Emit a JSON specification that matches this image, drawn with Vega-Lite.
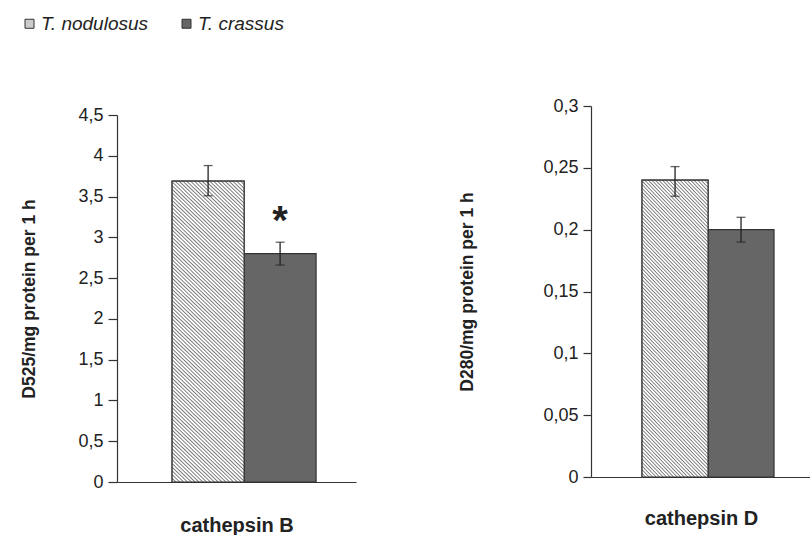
{
  "$schema": "https://vega.github.io/schema/vega-lite/v6.json",
  "padding": {"left": 20, "top": 14, "right": 0, "bottom": 0},
  "background": "white",
  "data": {"values": [
    {"enzyme": "cathepsin B", "species": "T. nodulosus", "mean": 3.69, "lo": 3.51, "hi": 3.88, "sig": ""},
    {"enzyme": "cathepsin B", "species": "T. crassus", "mean": 2.8, "lo": 2.66, "hi": 2.94, "sig": "*"},
    {"enzyme": "cathepsin D", "species": "T. nodulosus", "mean": 0.24, "lo": 0.227, "hi": 0.251, "sig": ""},
    {"enzyme": "cathepsin D", "species": "T. crassus", "mean": 0.2, "lo": 0.19, "hi": 0.21, "sig": ""}
  ]},
  "config": {
    "view": {"stroke": null},
    "font": "Liberation Sans",
    "axis": {"grid": false, "domainColor": "#333", "tickColor": "#333", "labelColor": "#222", "titleColor": "#222", "labelFont": "Liberation Sans", "titleFont": "Liberation Sans", "labelFontSize": 18, "titleFontWeight": "bold", "domainWidth": 1.2, "tickWidth": 1.2},
    "legend": {"symbolStrokeColor": "#333", "symbolStrokeWidth": 1}
  },
  "spacing": 102,
  "hconcat": [
    {
      "width": 239,
      "height": 376,
      "transform": [{"filter": "datum.enzyme === 'cathepsin B'"}],
      "encoding": {
        "x": {"field": "species", "type": "nominal",
          "scale": {"domain": ["T. nodulosus", "T. crassus"], "paddingInner": 0, "paddingOuter": 0.66, "align": 0.58},
          "axis": {"title": "cathepsin B", "labels": false, "ticks": false, "titleFontSize": 20, "titlePadding": 33}}
      },
      "layer": [
        {
          "mark": {"type": "bar", "stroke": "#333", "strokeWidth": 1.2},
          "encoding": {
            "y": {"field": "mean", "type": "quantitative", "title": "D525/mg protein per 1 h",
              "scale": {"domain": [0, 4.5], "range": [376, 9]},
              "axis": {"values": [0, 0.5, 1, 1.5, 2, 2.5, 3, 3.5, 4, 4.5], "labelExpr": "replace(toString(datum.value), '.', ',')", "tickSize": 9, "labelPadding": 5, "titleFontSize": 17.5, "titlePadding": 39}},
            "fill": {"field": "species", "type": "nominal",
              "scale": {"domain": ["T. nodulosus", "T. crassus"], "range": ["#cccccc", "#666666"]},
              "legend": {"title": null, "orient": "none", "legendX": -97, "legendY": -92, "direction": "horizontal", "symbolType": "square", "symbolSize": 81, "symbolStrokeColor": "#333", "symbolStrokeWidth": 1, "labelFontSize": 19, "labelFontStyle": "italic", "labelColor": "#222", "labelFont": "Liberation Sans", "columnPadding": 28, "labelOffset": 2, "padding": 0}}
          }
        },
        {
          "transform": [{"filter": "datum.species === 'T. nodulosus'"}],
          "mark": {"type": "bar", "stroke": "#333", "strokeWidth": 1.2, "fill": {"gradient": "linear", "x1": 0, "y1": 1, "x2": 0.27, "y2": -0.169, "stops": [
{"offset":0,"color":"#777"},{"offset":0.0035,"color":"#fff"},{"offset":0.0065,"color":"#fff"},
{"offset":0.01,"color":"#777"},{"offset":0.0135,"color":"#fff"},{"offset":0.0165,"color":"#fff"},
{"offset":0.02,"color":"#777"},{"offset":0.0235,"color":"#fff"},{"offset":0.0265,"color":"#fff"},
{"offset":0.03,"color":"#777"},{"offset":0.0335,"color":"#fff"},{"offset":0.0365,"color":"#fff"},
{"offset":0.04,"color":"#777"},{"offset":0.0435,"color":"#fff"},{"offset":0.0465,"color":"#fff"},
{"offset":0.05,"color":"#777"},{"offset":0.0535,"color":"#fff"},{"offset":0.0565,"color":"#fff"},
{"offset":0.06,"color":"#777"},{"offset":0.0635,"color":"#fff"},{"offset":0.0665,"color":"#fff"},
{"offset":0.07,"color":"#777"},{"offset":0.0735,"color":"#fff"},{"offset":0.0765,"color":"#fff"},
{"offset":0.08,"color":"#777"},{"offset":0.0835,"color":"#fff"},{"offset":0.0865,"color":"#fff"},
{"offset":0.09,"color":"#777"},{"offset":0.0935,"color":"#fff"},{"offset":0.0965,"color":"#fff"},
{"offset":0.10,"color":"#777"},{"offset":0.1035,"color":"#fff"},{"offset":0.1065,"color":"#fff"},
{"offset":0.11,"color":"#777"},{"offset":0.1135,"color":"#fff"},{"offset":0.1165,"color":"#fff"},
{"offset":0.12,"color":"#777"},{"offset":0.1235,"color":"#fff"},{"offset":0.1265,"color":"#fff"},
{"offset":0.13,"color":"#777"},{"offset":0.1335,"color":"#fff"},{"offset":0.1365,"color":"#fff"},
{"offset":0.14,"color":"#777"},{"offset":0.1435,"color":"#fff"},{"offset":0.1465,"color":"#fff"},
{"offset":0.15,"color":"#777"},{"offset":0.1535,"color":"#fff"},{"offset":0.1565,"color":"#fff"},
{"offset":0.16,"color":"#777"},{"offset":0.1635,"color":"#fff"},{"offset":0.1665,"color":"#fff"},
{"offset":0.17,"color":"#777"},{"offset":0.1735,"color":"#fff"},{"offset":0.1765,"color":"#fff"},
{"offset":0.18,"color":"#777"},{"offset":0.1835,"color":"#fff"},{"offset":0.1865,"color":"#fff"},
{"offset":0.19,"color":"#777"},{"offset":0.1935,"color":"#fff"},{"offset":0.1965,"color":"#fff"},
{"offset":0.20,"color":"#777"},{"offset":0.2035,"color":"#fff"},{"offset":0.2065,"color":"#fff"},
{"offset":0.21,"color":"#777"},{"offset":0.2135,"color":"#fff"},{"offset":0.2165,"color":"#fff"},
{"offset":0.22,"color":"#777"},{"offset":0.2235,"color":"#fff"},{"offset":0.2265,"color":"#fff"},
{"offset":0.23,"color":"#777"},{"offset":0.2335,"color":"#fff"},{"offset":0.2365,"color":"#fff"},
{"offset":0.24,"color":"#777"},{"offset":0.2435,"color":"#fff"},{"offset":0.2465,"color":"#fff"},
{"offset":0.25,"color":"#777"},{"offset":0.2535,"color":"#fff"},{"offset":0.2565,"color":"#fff"},
{"offset":0.26,"color":"#777"},{"offset":0.2635,"color":"#fff"},{"offset":0.2665,"color":"#fff"},
{"offset":0.27,"color":"#777"},{"offset":0.2735,"color":"#fff"},{"offset":0.2765,"color":"#fff"},
{"offset":0.28,"color":"#777"},{"offset":0.2835,"color":"#fff"},{"offset":0.2865,"color":"#fff"},
{"offset":0.29,"color":"#777"},{"offset":0.2935,"color":"#fff"},{"offset":0.2965,"color":"#fff"},
{"offset":0.30,"color":"#777"},{"offset":0.3035,"color":"#fff"},{"offset":0.3065,"color":"#fff"},
{"offset":0.31,"color":"#777"},{"offset":0.3135,"color":"#fff"},{"offset":0.3165,"color":"#fff"},
{"offset":0.32,"color":"#777"},{"offset":0.3235,"color":"#fff"},{"offset":0.3265,"color":"#fff"},
{"offset":0.33,"color":"#777"},{"offset":0.3335,"color":"#fff"},{"offset":0.3365,"color":"#fff"},
{"offset":0.34,"color":"#777"},{"offset":0.3435,"color":"#fff"},{"offset":0.3465,"color":"#fff"},
{"offset":0.35,"color":"#777"},{"offset":0.3535,"color":"#fff"},{"offset":0.3565,"color":"#fff"},
{"offset":0.36,"color":"#777"},{"offset":0.3635,"color":"#fff"},{"offset":0.3665,"color":"#fff"},
{"offset":0.37,"color":"#777"},{"offset":0.3735,"color":"#fff"},{"offset":0.3765,"color":"#fff"},
{"offset":0.38,"color":"#777"},{"offset":0.3835,"color":"#fff"},{"offset":0.3865,"color":"#fff"},
{"offset":0.39,"color":"#777"},{"offset":0.3935,"color":"#fff"},{"offset":0.3965,"color":"#fff"},
{"offset":0.40,"color":"#777"},{"offset":0.4035,"color":"#fff"},{"offset":0.4065,"color":"#fff"},
{"offset":0.41,"color":"#777"},{"offset":0.4135,"color":"#fff"},{"offset":0.4165,"color":"#fff"},
{"offset":0.42,"color":"#777"},{"offset":0.4235,"color":"#fff"},{"offset":0.4265,"color":"#fff"},
{"offset":0.43,"color":"#777"},{"offset":0.4335,"color":"#fff"},{"offset":0.4365,"color":"#fff"},
{"offset":0.44,"color":"#777"},{"offset":0.4435,"color":"#fff"},{"offset":0.4465,"color":"#fff"},
{"offset":0.45,"color":"#777"},{"offset":0.4535,"color":"#fff"},{"offset":0.4565,"color":"#fff"},
{"offset":0.46,"color":"#777"},{"offset":0.4635,"color":"#fff"},{"offset":0.4665,"color":"#fff"},
{"offset":0.47,"color":"#777"},{"offset":0.4735,"color":"#fff"},{"offset":0.4765,"color":"#fff"},
{"offset":0.48,"color":"#777"},{"offset":0.4835,"color":"#fff"},{"offset":0.4865,"color":"#fff"},
{"offset":0.49,"color":"#777"},{"offset":0.4935,"color":"#fff"},{"offset":0.4965,"color":"#fff"},
{"offset":0.50,"color":"#777"},{"offset":0.5035,"color":"#fff"},{"offset":0.5065,"color":"#fff"},
{"offset":0.51,"color":"#777"},{"offset":0.5135,"color":"#fff"},{"offset":0.5165,"color":"#fff"},
{"offset":0.52,"color":"#777"},{"offset":0.5235,"color":"#fff"},{"offset":0.5265,"color":"#fff"},
{"offset":0.53,"color":"#777"},{"offset":0.5335,"color":"#fff"},{"offset":0.5365,"color":"#fff"},
{"offset":0.54,"color":"#777"},{"offset":0.5435,"color":"#fff"},{"offset":0.5465,"color":"#fff"},
{"offset":0.55,"color":"#777"},{"offset":0.5535,"color":"#fff"},{"offset":0.5565,"color":"#fff"},
{"offset":0.56,"color":"#777"},{"offset":0.5635,"color":"#fff"},{"offset":0.5665,"color":"#fff"},
{"offset":0.57,"color":"#777"},{"offset":0.5735,"color":"#fff"},{"offset":0.5765,"color":"#fff"},
{"offset":0.58,"color":"#777"},{"offset":0.5835,"color":"#fff"},{"offset":0.5865,"color":"#fff"},
{"offset":0.59,"color":"#777"},{"offset":0.5935,"color":"#fff"},{"offset":0.5965,"color":"#fff"},
{"offset":0.60,"color":"#777"},{"offset":0.6035,"color":"#fff"},{"offset":0.6065,"color":"#fff"},
{"offset":0.61,"color":"#777"},{"offset":0.6135,"color":"#fff"},{"offset":0.6165,"color":"#fff"},
{"offset":0.62,"color":"#777"},{"offset":0.6235,"color":"#fff"},{"offset":0.6265,"color":"#fff"},
{"offset":0.63,"color":"#777"},{"offset":0.6335,"color":"#fff"},{"offset":0.6365,"color":"#fff"},
{"offset":0.64,"color":"#777"},{"offset":0.6435,"color":"#fff"},{"offset":0.6465,"color":"#fff"},
{"offset":0.65,"color":"#777"},{"offset":0.6535,"color":"#fff"},{"offset":0.6565,"color":"#fff"},
{"offset":0.66,"color":"#777"},{"offset":0.6635,"color":"#fff"},{"offset":0.6665,"color":"#fff"},
{"offset":0.67,"color":"#777"},{"offset":0.6735,"color":"#fff"},{"offset":0.6765,"color":"#fff"},
{"offset":0.68,"color":"#777"},{"offset":0.6835,"color":"#fff"},{"offset":0.6865,"color":"#fff"},
{"offset":0.69,"color":"#777"},{"offset":0.6935,"color":"#fff"},{"offset":0.6965,"color":"#fff"},
{"offset":0.70,"color":"#777"},{"offset":0.7035,"color":"#fff"},{"offset":0.7065,"color":"#fff"},
{"offset":0.71,"color":"#777"},{"offset":0.7135,"color":"#fff"},{"offset":0.7165,"color":"#fff"},
{"offset":0.72,"color":"#777"},{"offset":0.7235,"color":"#fff"},{"offset":0.7265,"color":"#fff"},
{"offset":0.73,"color":"#777"},{"offset":0.7335,"color":"#fff"},{"offset":0.7365,"color":"#fff"},
{"offset":0.74,"color":"#777"},{"offset":0.7435,"color":"#fff"},{"offset":0.7465,"color":"#fff"},
{"offset":0.75,"color":"#777"},{"offset":0.7535,"color":"#fff"},{"offset":0.7565,"color":"#fff"},
{"offset":0.76,"color":"#777"},{"offset":0.7635,"color":"#fff"},{"offset":0.7665,"color":"#fff"},
{"offset":0.77,"color":"#777"},{"offset":0.7735,"color":"#fff"},{"offset":0.7765,"color":"#fff"},
{"offset":0.78,"color":"#777"},{"offset":0.7835,"color":"#fff"},{"offset":0.7865,"color":"#fff"},
{"offset":0.79,"color":"#777"},{"offset":0.7935,"color":"#fff"},{"offset":0.7965,"color":"#fff"},
{"offset":0.80,"color":"#777"},{"offset":0.8035,"color":"#fff"},{"offset":0.8065,"color":"#fff"},
{"offset":0.81,"color":"#777"},{"offset":0.8135,"color":"#fff"},{"offset":0.8165,"color":"#fff"},
{"offset":0.82,"color":"#777"},{"offset":0.8235,"color":"#fff"},{"offset":0.8265,"color":"#fff"},
{"offset":0.83,"color":"#777"},{"offset":0.8335,"color":"#fff"},{"offset":0.8365,"color":"#fff"},
{"offset":0.84,"color":"#777"},{"offset":0.8435,"color":"#fff"},{"offset":0.8465,"color":"#fff"},
{"offset":0.85,"color":"#777"},{"offset":0.8535,"color":"#fff"},{"offset":0.8565,"color":"#fff"},
{"offset":0.86,"color":"#777"},{"offset":0.8635,"color":"#fff"},{"offset":0.8665,"color":"#fff"},
{"offset":0.87,"color":"#777"},{"offset":0.8735,"color":"#fff"},{"offset":0.8765,"color":"#fff"},
{"offset":0.88,"color":"#777"},{"offset":0.8835,"color":"#fff"},{"offset":0.8865,"color":"#fff"},
{"offset":0.89,"color":"#777"},{"offset":0.8935,"color":"#fff"},{"offset":0.8965,"color":"#fff"},
{"offset":0.90,"color":"#777"},{"offset":0.9035,"color":"#fff"},{"offset":0.9065,"color":"#fff"},
{"offset":0.91,"color":"#777"},{"offset":0.9135,"color":"#fff"},{"offset":0.9165,"color":"#fff"},
{"offset":0.92,"color":"#777"},{"offset":0.9235,"color":"#fff"},{"offset":0.9265,"color":"#fff"},
{"offset":0.93,"color":"#777"},{"offset":0.9335,"color":"#fff"},{"offset":0.9365,"color":"#fff"},
{"offset":0.94,"color":"#777"},{"offset":0.9435,"color":"#fff"},{"offset":0.9465,"color":"#fff"},
{"offset":0.95,"color":"#777"},{"offset":0.9535,"color":"#fff"},{"offset":0.9565,"color":"#fff"},
{"offset":0.96,"color":"#777"},{"offset":0.9635,"color":"#fff"},{"offset":0.9665,"color":"#fff"},
{"offset":0.97,"color":"#777"},{"offset":0.9735,"color":"#fff"},{"offset":0.9765,"color":"#fff"},
{"offset":0.98,"color":"#777"},{"offset":0.9835,"color":"#fff"},{"offset":0.9865,"color":"#fff"},
{"offset":0.99,"color":"#777"},{"offset":0.9935,"color":"#fff"},{"offset":0.9965,"color":"#fff"},
{"offset":1,"color":"#777"}
          ]}},
          "encoding": {"y": {"field": "mean", "type": "quantitative", "title": "D525/mg protein per 1 h"}}
        },
        {
          "mark": {"type": "errorbar", "color": "#222", "thickness": 1.3, "ticks": {"size": 9, "color": "#222", "thickness": 1.3}},
          "encoding": {"y": {"field": "lo", "type": "quantitative", "title": "D525/mg protein per 1 h"}, "y2": {"field": "hi"}}
        },
        {
          "transform": [{"filter": "datum.sig !== ''"}],
          "mark": {"type": "text", "fontSize": 40, "fontWeight": "bold", "baseline": "alphabetic", "dy": -8, "color": "#222", "font": "Liberation Sans"},
          "encoding": {"y": {"field": "hi", "type": "quantitative", "title": "D525/mg protein per 1 h"}, "text": {"field": "sig"}}
        }
      ]
    },
    {
      "width": 220,
      "height": 371,
      "transform": [{"filter": "datum.enzyme === 'cathepsin D'"}],
      "encoding": {
        "x": {"field": "species", "type": "nominal",
          "scale": {"domain": ["T. nodulosus", "T. crassus"], "paddingInner": 0, "paddingOuter": 0.667, "align": 0.58},
          "axis": {"title": "cathepsin D", "labels": false, "ticks": false, "titleFontSize": 20, "titlePadding": 31}}
      },
      "layer": [
        {
          "mark": {"type": "bar", "stroke": "#333", "strokeWidth": 1.2},
          "encoding": {
            "y": {"field": "mean", "type": "quantitative", "title": "D280/mg protein per 1 h",
              "scale": {"domain": [0, 0.3]},
              "axis": {"values": [0, 0.05, 0.1, 0.15, 0.2, 0.25, 0.3], "labelExpr": "replace(toString(datum.value), '.', ',')", "tickSize": 8, "labelPadding": 5, "titleFontSize": 17.5, "titlePadding": 66}},
            "fill": {"field": "species", "type": "nominal",
              "scale": {"domain": ["T. nodulosus", "T. crassus"], "range": ["#cccccc", "#666666"]},
              "legend": {"title": null, "orient": "none", "legendX": -97, "legendY": -92, "direction": "horizontal", "symbolType": "square", "symbolSize": 81, "symbolStrokeColor": "#333", "symbolStrokeWidth": 1, "labelFontSize": 19, "labelFontStyle": "italic", "labelColor": "#222", "labelFont": "Liberation Sans", "columnPadding": 28, "labelOffset": 2, "padding": 0}}
          }
        },
        {
          "transform": [{"filter": "datum.species === 'T. nodulosus'"}],
          "mark": {"type": "bar", "stroke": "#333", "strokeWidth": 1.2, "fill": {"gradient": "linear", "x1": 0, "y1": 1, "x2": 0.27, "y2": -0.169, "stops": [
{"offset":0,"color":"#777"},{"offset":0.0035,"color":"#fff"},{"offset":0.0065,"color":"#fff"},
{"offset":0.01,"color":"#777"},{"offset":0.0135,"color":"#fff"},{"offset":0.0165,"color":"#fff"},
{"offset":0.02,"color":"#777"},{"offset":0.0235,"color":"#fff"},{"offset":0.0265,"color":"#fff"},
{"offset":0.03,"color":"#777"},{"offset":0.0335,"color":"#fff"},{"offset":0.0365,"color":"#fff"},
{"offset":0.04,"color":"#777"},{"offset":0.0435,"color":"#fff"},{"offset":0.0465,"color":"#fff"},
{"offset":0.05,"color":"#777"},{"offset":0.0535,"color":"#fff"},{"offset":0.0565,"color":"#fff"},
{"offset":0.06,"color":"#777"},{"offset":0.0635,"color":"#fff"},{"offset":0.0665,"color":"#fff"},
{"offset":0.07,"color":"#777"},{"offset":0.0735,"color":"#fff"},{"offset":0.0765,"color":"#fff"},
{"offset":0.08,"color":"#777"},{"offset":0.0835,"color":"#fff"},{"offset":0.0865,"color":"#fff"},
{"offset":0.09,"color":"#777"},{"offset":0.0935,"color":"#fff"},{"offset":0.0965,"color":"#fff"},
{"offset":0.10,"color":"#777"},{"offset":0.1035,"color":"#fff"},{"offset":0.1065,"color":"#fff"},
{"offset":0.11,"color":"#777"},{"offset":0.1135,"color":"#fff"},{"offset":0.1165,"color":"#fff"},
{"offset":0.12,"color":"#777"},{"offset":0.1235,"color":"#fff"},{"offset":0.1265,"color":"#fff"},
{"offset":0.13,"color":"#777"},{"offset":0.1335,"color":"#fff"},{"offset":0.1365,"color":"#fff"},
{"offset":0.14,"color":"#777"},{"offset":0.1435,"color":"#fff"},{"offset":0.1465,"color":"#fff"},
{"offset":0.15,"color":"#777"},{"offset":0.1535,"color":"#fff"},{"offset":0.1565,"color":"#fff"},
{"offset":0.16,"color":"#777"},{"offset":0.1635,"color":"#fff"},{"offset":0.1665,"color":"#fff"},
{"offset":0.17,"color":"#777"},{"offset":0.1735,"color":"#fff"},{"offset":0.1765,"color":"#fff"},
{"offset":0.18,"color":"#777"},{"offset":0.1835,"color":"#fff"},{"offset":0.1865,"color":"#fff"},
{"offset":0.19,"color":"#777"},{"offset":0.1935,"color":"#fff"},{"offset":0.1965,"color":"#fff"},
{"offset":0.20,"color":"#777"},{"offset":0.2035,"color":"#fff"},{"offset":0.2065,"color":"#fff"},
{"offset":0.21,"color":"#777"},{"offset":0.2135,"color":"#fff"},{"offset":0.2165,"color":"#fff"},
{"offset":0.22,"color":"#777"},{"offset":0.2235,"color":"#fff"},{"offset":0.2265,"color":"#fff"},
{"offset":0.23,"color":"#777"},{"offset":0.2335,"color":"#fff"},{"offset":0.2365,"color":"#fff"},
{"offset":0.24,"color":"#777"},{"offset":0.2435,"color":"#fff"},{"offset":0.2465,"color":"#fff"},
{"offset":0.25,"color":"#777"},{"offset":0.2535,"color":"#fff"},{"offset":0.2565,"color":"#fff"},
{"offset":0.26,"color":"#777"},{"offset":0.2635,"color":"#fff"},{"offset":0.2665,"color":"#fff"},
{"offset":0.27,"color":"#777"},{"offset":0.2735,"color":"#fff"},{"offset":0.2765,"color":"#fff"},
{"offset":0.28,"color":"#777"},{"offset":0.2835,"color":"#fff"},{"offset":0.2865,"color":"#fff"},
{"offset":0.29,"color":"#777"},{"offset":0.2935,"color":"#fff"},{"offset":0.2965,"color":"#fff"},
{"offset":0.30,"color":"#777"},{"offset":0.3035,"color":"#fff"},{"offset":0.3065,"color":"#fff"},
{"offset":0.31,"color":"#777"},{"offset":0.3135,"color":"#fff"},{"offset":0.3165,"color":"#fff"},
{"offset":0.32,"color":"#777"},{"offset":0.3235,"color":"#fff"},{"offset":0.3265,"color":"#fff"},
{"offset":0.33,"color":"#777"},{"offset":0.3335,"color":"#fff"},{"offset":0.3365,"color":"#fff"},
{"offset":0.34,"color":"#777"},{"offset":0.3435,"color":"#fff"},{"offset":0.3465,"color":"#fff"},
{"offset":0.35,"color":"#777"},{"offset":0.3535,"color":"#fff"},{"offset":0.3565,"color":"#fff"},
{"offset":0.36,"color":"#777"},{"offset":0.3635,"color":"#fff"},{"offset":0.3665,"color":"#fff"},
{"offset":0.37,"color":"#777"},{"offset":0.3735,"color":"#fff"},{"offset":0.3765,"color":"#fff"},
{"offset":0.38,"color":"#777"},{"offset":0.3835,"color":"#fff"},{"offset":0.3865,"color":"#fff"},
{"offset":0.39,"color":"#777"},{"offset":0.3935,"color":"#fff"},{"offset":0.3965,"color":"#fff"},
{"offset":0.40,"color":"#777"},{"offset":0.4035,"color":"#fff"},{"offset":0.4065,"color":"#fff"},
{"offset":0.41,"color":"#777"},{"offset":0.4135,"color":"#fff"},{"offset":0.4165,"color":"#fff"},
{"offset":0.42,"color":"#777"},{"offset":0.4235,"color":"#fff"},{"offset":0.4265,"color":"#fff"},
{"offset":0.43,"color":"#777"},{"offset":0.4335,"color":"#fff"},{"offset":0.4365,"color":"#fff"},
{"offset":0.44,"color":"#777"},{"offset":0.4435,"color":"#fff"},{"offset":0.4465,"color":"#fff"},
{"offset":0.45,"color":"#777"},{"offset":0.4535,"color":"#fff"},{"offset":0.4565,"color":"#fff"},
{"offset":0.46,"color":"#777"},{"offset":0.4635,"color":"#fff"},{"offset":0.4665,"color":"#fff"},
{"offset":0.47,"color":"#777"},{"offset":0.4735,"color":"#fff"},{"offset":0.4765,"color":"#fff"},
{"offset":0.48,"color":"#777"},{"offset":0.4835,"color":"#fff"},{"offset":0.4865,"color":"#fff"},
{"offset":0.49,"color":"#777"},{"offset":0.4935,"color":"#fff"},{"offset":0.4965,"color":"#fff"},
{"offset":0.50,"color":"#777"},{"offset":0.5035,"color":"#fff"},{"offset":0.5065,"color":"#fff"},
{"offset":0.51,"color":"#777"},{"offset":0.5135,"color":"#fff"},{"offset":0.5165,"color":"#fff"},
{"offset":0.52,"color":"#777"},{"offset":0.5235,"color":"#fff"},{"offset":0.5265,"color":"#fff"},
{"offset":0.53,"color":"#777"},{"offset":0.5335,"color":"#fff"},{"offset":0.5365,"color":"#fff"},
{"offset":0.54,"color":"#777"},{"offset":0.5435,"color":"#fff"},{"offset":0.5465,"color":"#fff"},
{"offset":0.55,"color":"#777"},{"offset":0.5535,"color":"#fff"},{"offset":0.5565,"color":"#fff"},
{"offset":0.56,"color":"#777"},{"offset":0.5635,"color":"#fff"},{"offset":0.5665,"color":"#fff"},
{"offset":0.57,"color":"#777"},{"offset":0.5735,"color":"#fff"},{"offset":0.5765,"color":"#fff"},
{"offset":0.58,"color":"#777"},{"offset":0.5835,"color":"#fff"},{"offset":0.5865,"color":"#fff"},
{"offset":0.59,"color":"#777"},{"offset":0.5935,"color":"#fff"},{"offset":0.5965,"color":"#fff"},
{"offset":0.60,"color":"#777"},{"offset":0.6035,"color":"#fff"},{"offset":0.6065,"color":"#fff"},
{"offset":0.61,"color":"#777"},{"offset":0.6135,"color":"#fff"},{"offset":0.6165,"color":"#fff"},
{"offset":0.62,"color":"#777"},{"offset":0.6235,"color":"#fff"},{"offset":0.6265,"color":"#fff"},
{"offset":0.63,"color":"#777"},{"offset":0.6335,"color":"#fff"},{"offset":0.6365,"color":"#fff"},
{"offset":0.64,"color":"#777"},{"offset":0.6435,"color":"#fff"},{"offset":0.6465,"color":"#fff"},
{"offset":0.65,"color":"#777"},{"offset":0.6535,"color":"#fff"},{"offset":0.6565,"color":"#fff"},
{"offset":0.66,"color":"#777"},{"offset":0.6635,"color":"#fff"},{"offset":0.6665,"color":"#fff"},
{"offset":0.67,"color":"#777"},{"offset":0.6735,"color":"#fff"},{"offset":0.6765,"color":"#fff"},
{"offset":0.68,"color":"#777"},{"offset":0.6835,"color":"#fff"},{"offset":0.6865,"color":"#fff"},
{"offset":0.69,"color":"#777"},{"offset":0.6935,"color":"#fff"},{"offset":0.6965,"color":"#fff"},
{"offset":0.70,"color":"#777"},{"offset":0.7035,"color":"#fff"},{"offset":0.7065,"color":"#fff"},
{"offset":0.71,"color":"#777"},{"offset":0.7135,"color":"#fff"},{"offset":0.7165,"color":"#fff"},
{"offset":0.72,"color":"#777"},{"offset":0.7235,"color":"#fff"},{"offset":0.7265,"color":"#fff"},
{"offset":0.73,"color":"#777"},{"offset":0.7335,"color":"#fff"},{"offset":0.7365,"color":"#fff"},
{"offset":0.74,"color":"#777"},{"offset":0.7435,"color":"#fff"},{"offset":0.7465,"color":"#fff"},
{"offset":0.75,"color":"#777"},{"offset":0.7535,"color":"#fff"},{"offset":0.7565,"color":"#fff"},
{"offset":0.76,"color":"#777"},{"offset":0.7635,"color":"#fff"},{"offset":0.7665,"color":"#fff"},
{"offset":0.77,"color":"#777"},{"offset":0.7735,"color":"#fff"},{"offset":0.7765,"color":"#fff"},
{"offset":0.78,"color":"#777"},{"offset":0.7835,"color":"#fff"},{"offset":0.7865,"color":"#fff"},
{"offset":0.79,"color":"#777"},{"offset":0.7935,"color":"#fff"},{"offset":0.7965,"color":"#fff"},
{"offset":0.80,"color":"#777"},{"offset":0.8035,"color":"#fff"},{"offset":0.8065,"color":"#fff"},
{"offset":0.81,"color":"#777"},{"offset":0.8135,"color":"#fff"},{"offset":0.8165,"color":"#fff"},
{"offset":0.82,"color":"#777"},{"offset":0.8235,"color":"#fff"},{"offset":0.8265,"color":"#fff"},
{"offset":0.83,"color":"#777"},{"offset":0.8335,"color":"#fff"},{"offset":0.8365,"color":"#fff"},
{"offset":0.84,"color":"#777"},{"offset":0.8435,"color":"#fff"},{"offset":0.8465,"color":"#fff"},
{"offset":0.85,"color":"#777"},{"offset":0.8535,"color":"#fff"},{"offset":0.8565,"color":"#fff"},
{"offset":0.86,"color":"#777"},{"offset":0.8635,"color":"#fff"},{"offset":0.8665,"color":"#fff"},
{"offset":0.87,"color":"#777"},{"offset":0.8735,"color":"#fff"},{"offset":0.8765,"color":"#fff"},
{"offset":0.88,"color":"#777"},{"offset":0.8835,"color":"#fff"},{"offset":0.8865,"color":"#fff"},
{"offset":0.89,"color":"#777"},{"offset":0.8935,"color":"#fff"},{"offset":0.8965,"color":"#fff"},
{"offset":0.90,"color":"#777"},{"offset":0.9035,"color":"#fff"},{"offset":0.9065,"color":"#fff"},
{"offset":0.91,"color":"#777"},{"offset":0.9135,"color":"#fff"},{"offset":0.9165,"color":"#fff"},
{"offset":0.92,"color":"#777"},{"offset":0.9235,"color":"#fff"},{"offset":0.9265,"color":"#fff"},
{"offset":0.93,"color":"#777"},{"offset":0.9335,"color":"#fff"},{"offset":0.9365,"color":"#fff"},
{"offset":0.94,"color":"#777"},{"offset":0.9435,"color":"#fff"},{"offset":0.9465,"color":"#fff"},
{"offset":0.95,"color":"#777"},{"offset":0.9535,"color":"#fff"},{"offset":0.9565,"color":"#fff"},
{"offset":0.96,"color":"#777"},{"offset":0.9635,"color":"#fff"},{"offset":0.9665,"color":"#fff"},
{"offset":0.97,"color":"#777"},{"offset":0.9735,"color":"#fff"},{"offset":0.9765,"color":"#fff"},
{"offset":0.98,"color":"#777"},{"offset":0.9835,"color":"#fff"},{"offset":0.9865,"color":"#fff"},
{"offset":0.99,"color":"#777"},{"offset":0.9935,"color":"#fff"},{"offset":0.9965,"color":"#fff"},
{"offset":1,"color":"#777"}
          ]}},
          "encoding": {"y": {"field": "mean", "type": "quantitative", "title": "D280/mg protein per 1 h"}}
        },
        {
          "mark": {"type": "errorbar", "color": "#222", "thickness": 1.3, "ticks": {"size": 9, "color": "#222", "thickness": 1.3}},
          "encoding": {"y": {"field": "lo", "type": "quantitative", "title": "D280/mg protein per 1 h"}, "y2": {"field": "hi"}}
        }
      ]
    }
  ]
}
